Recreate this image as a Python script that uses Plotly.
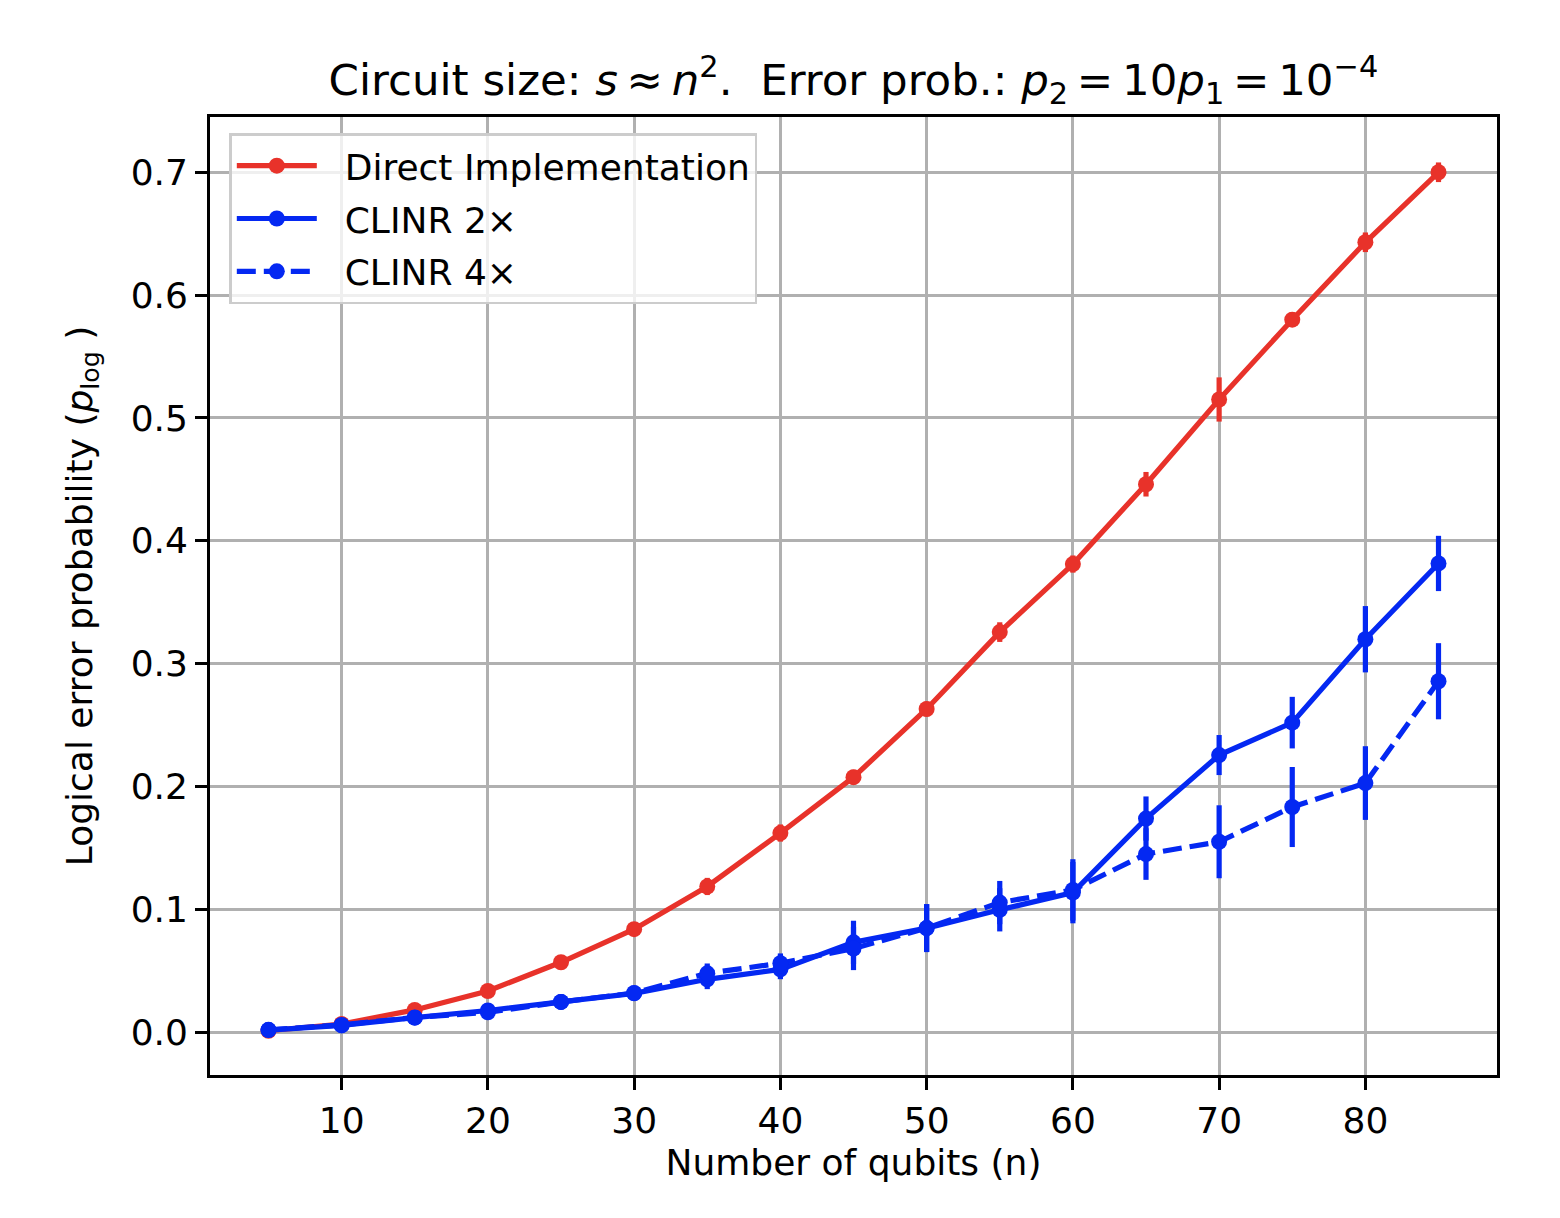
import plotly.graph_objects as go

n_qubits = [5, 10, 15, 20, 25, 30, 35, 40, 45, 50, 55, 60, 65, 70, 75, 80, 85]

direct = [0.001, 0.0065, 0.018, 0.0334, 0.0568, 0.0837, 0.1185, 0.162, 0.2075, 0.263,
          0.3256, 0.381, 0.446, 0.515, 0.580, 0.643, 0.700]
direct_err = [0.001, 0.002, 0.003, 0.003, 0.004, 0.004, 0.007, 0.007, 0.006, 0.006,
              0.008, 0.007, 0.010, 0.018, 0.006, 0.008, 0.008]

clinr2 = [0.0016, 0.0054, 0.0117, 0.0175, 0.0245, 0.0315, 0.0429, 0.051, 0.073, 0.0846,
          0.0995, 0.1135, 0.1738, 0.2255, 0.2519, 0.3198, 0.3815]
clinr2_err = [0.001, 0.002, 0.002, 0.003, 0.006, 0.004, 0.008, 0.008, 0.0176, 0.0195,
              0.0176, 0.025, 0.018, 0.0163, 0.021, 0.027, 0.0225]

clinr4 = [0.0018, 0.0058, 0.0118, 0.016, 0.0245, 0.0318, 0.0478, 0.056, 0.068, 0.0846,
          0.1054, 0.1157, 0.1449, 0.1549, 0.1832, 0.2027, 0.2856]
clinr4_err = [0.001, 0.002, 0.002, 0.003, 0.006, 0.004, 0.008, 0.008, 0.0176, 0.0195,
              0.0176, 0.025, 0.021, 0.0297, 0.0326, 0.030, 0.031]

series_names = ["Direct Implementation", "CLINR 2×", "CLINR 4×"]
x_ticks = [10, 20, 30, 40, 50, 60, 70, 80]
y_ticks = [0.0, 0.1, 0.2, 0.3, 0.4, 0.5, 0.6, 0.7]

RED = "#e8322a"
BLUE = "#0428f2"
FONT = "DejaVu Sans"
FS = 36
GAP = "\u00a0\u00a0"

fig = go.Figure()

def add(name, y, err, color, dash, group):
    fig.add_trace(go.Scatter(
        x=n_qubits, y=y, name=GAP + name, mode="lines+markers",
        legendgroup=group,
        line=dict(color=color, width=5.2, dash=dash),
        marker=dict(color=color, size=16, symbol="circle"),
        error_y=dict(type="data", array=err, visible=True, color=color,
                     thickness=5.2, width=0),
    ))

add(series_names[0], direct, direct_err, RED, "solid", "a")
add(series_names[1], clinr2, clinr2_err, BLUE, "solid", "b")
add(series_names[2], clinr4, clinr4_err, BLUE, "19px,8px", "c")

axis_common = dict(
    showline=True, linecolor="black", linewidth=2.7, mirror=True,
    ticks="outside", ticklen=12, tickwidth=2.7, tickcolor="black",
    showgrid=True, gridcolor="#b0b0b0", gridwidth=2.7, zeroline=False,
    tickfont=dict(family=FONT, size=FS, color="black"),
)

fig.update_layout(
    width=1560, height=1218,
    paper_bgcolor="white", plot_bgcolor="white",
    margin=dict(l=202, r=71, t=109, b=151),
    font=dict(family=FONT, color="black"),
    title=dict(
        text="Circuit size: <i>s</i>\u2009≈\u2009<i>n</i><sup>2</sup>.  Error prob.: "
             "<i>p</i><sub>2</sub>\u2009=\u200910<i>p</i><sub>1</sub>\u2009=\u200910<sup>−4</sup>",
        font=dict(family=FONT, size=43.5, color="black"),
        x=0.5, xref="paper", xanchor="center",
        y=1, yref="paper", yanchor="bottom", pad=dict(b=22),
    ),
    xaxis=dict(
        range=[1, 89], tickvals=x_ticks,
        title=dict(text="Number of qubits (n)", font=dict(family=FONT, size=FS), standoff=10),
        **axis_common,
    ),
    yaxis=dict(
        range=[-0.035, 0.745], tickvals=y_ticks, tickformat=".1f",
        title=dict(text="Logical error probability (<i>p</i><sub>log</sub> )",
                   font=dict(family=FONT, size=FS), standoff=28),
        **axis_common,
    ),
    legend=dict(
        x=0.015, y=0.983, xanchor="left", yanchor="top",
        bgcolor="rgba(255,255,255,0.8)", bordercolor="#cccccc", borderwidth=2.5,
        font=dict(family=FONT, size=FS, color="black"),
        itemwidth=80, tracegroupgap=3,
    ),
    showlegend=True,
)

fig.write_html("out.html")
